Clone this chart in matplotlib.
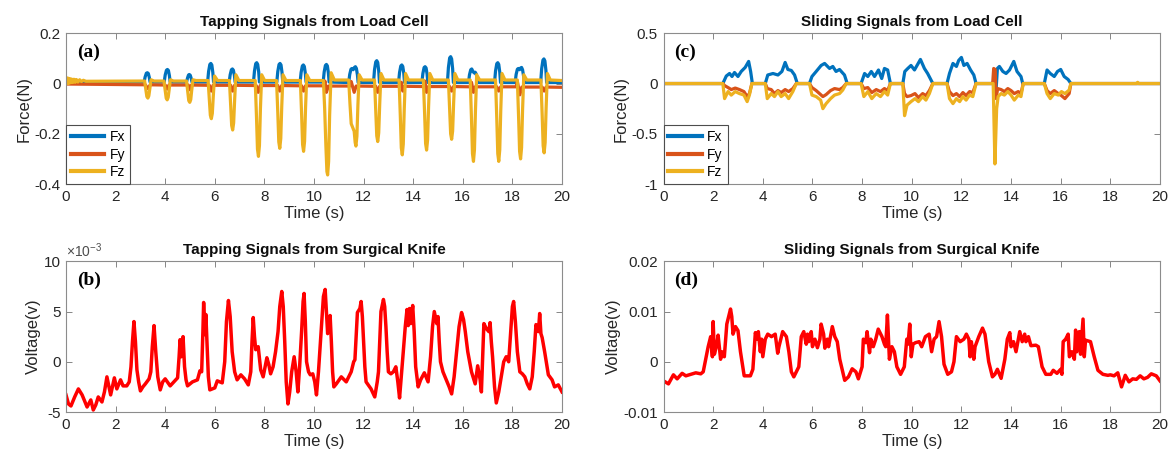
import numpy as np
import matplotlib.pyplot as plt

plt.rcParams['font.family'] = ['Liberation Sans', 'DejaVu Sans']
plt.rcParams['mathtext.fontset'] = 'custom'
plt.rcParams['mathtext.rm'] = 'Liberation Sans'

# colours (MATLAB default order)
c_fx, c_fy, c_fz = '#0072BD', '#D95319', '#EDB120'

# ---- (a) tapping, load cell : (time s, force N) ----
fx_a = [(0, 0.008),
        (3.15, .006), (3.19, .026), (3.24, .041), (3.28, .043), (3.32, .04), (3.36, .024), (3.39, .006),
        (3.96, .006), (4.0, .034), (4.05, .053), (4.09, .056), (4.13, .052), (4.17, .031), (4.2, .006),
        (4.86, .006), (4.9, .022), (4.94, .034), (4.97, .036), (5.01, .033), (5.05, .02), (5.08, .006),
        (5.71, .006), (5.75, .048), (5.8, .076), (5.84, .08), (5.88, .074), (5.92, .044), (5.95, .006),
        (6.58, .006), (6.62, .035), (6.67, .055), (6.71, .058), (6.75, .053), (6.79, .032), (6.82, .006),
        (7.56, .006), (7.6, .05), (7.65, .079), (7.69, .083), (7.73, .076), (7.77, .046), (7.8, .006),
        (8.5, .006), (8.54, .048), (8.59, .076), (8.63, .08), (8.67, .074), (8.71, .044), (8.74, .006),
        (9.44, .006), (9.48, .044), (9.53, .07), (9.57, .074), (9.61, .068), (9.65, .041), (9.68, .006),
        (10.37, .006), (10.41, .046), (10.46, .072), (10.5, .076), (10.54, .07), (10.58, .042), (10.61, .006),
        (11.4, .004), (11.44, .036), (11.49, .057), (11.53, .06), (11.58, .055), (11.63, .064), (11.67, .067),
        (11.71, .06), (11.75, .035), (11.78, .004),
        (12.4, .004), (12.44, .055), (12.49, .086), (12.53, .091), (12.57, .084), (12.61, .05), (12.64, .004),
        (13.41, .004), (13.45, .044), (13.5, .07), (13.54, .074), (13.58, .068), (13.62, .041), (13.65, .004),
        (14.35, .004), (14.39, .04), (14.44, .064), (14.48, .067), (14.52, .062), (14.56, .037), (14.59, .004),
        (15.38, .004), (15.42, .064), (15.47, .102), (15.51, .107), (15.55, .098), (15.59, .059), (15.62, .004),
        (16.23, .004), (16.27, .035), (16.32, .055), (16.36, .058), (16.41, .048), (16.46, .042), (16.5, .045),
        (16.54, .038), (16.58, .02), (16.61, .004),
        (17.28, .004), (17.32, .05), (17.37, .079), (17.41, .083), (17.45, .076), (17.49, .046), (17.52, .004),
        (18.11, .004), (18.15, .036), (18.2, .057), (18.24, .06), (18.29, .055), (18.33, .062), (18.37, .064),
        (18.41, .055), (18.45, .03), (18.48, .004),
        (19.14, .004), (19.18, .059), (19.23, .093), (19.27, .098), (19.31, .09), (19.35, .054), (19.38, .004),
        (20, .004)]

fy_a = [(0, -0.002), (3.2, -0.005), (3.3, -0.02), (3.4, -0.005),
        (4.0, -0.006), (4.08, -0.022), (4.15, -0.006),
        (4.93, -0.006), (5.0, -0.025), (5.06, -0.006),
        (5.78, -0.007), (5.86, -0.03), (5.93, -0.007),
        (6.64, -0.007), (6.72, -0.03), (6.8, -0.007),
        (7.67, -0.008), (7.75, -0.035), (7.83, -0.008),
        (8.54, -0.008), (8.62, -0.03), (8.7, -0.008),
        (9.5, -0.009), (9.58, -0.03), (9.66, -0.009),
        (10.4, -0.009), (10.44, 0.01), (10.5, -0.035), (10.58, -0.01),
        (11.45, -0.01), (11.5, 0.008), (11.62, -0.035), (11.7, -0.01),
        (12.49, -0.011), (12.57, -0.035), (12.65, -0.011),
        (13.48, -0.011), (13.52, 0.005), (13.58, -0.03), (13.66, -0.011),
        (14.42, -0.012), (14.47, 0.01), (14.54, -0.035), (14.62, -0.012),
        (15.47, -0.012), (15.55, -0.03), (15.63, -0.012),
        (16.3, -0.013), (16.35, 0.005), (16.43, -0.035), (16.5, -0.013),
        (17.37, -0.013), (17.45, -0.03), (17.53, -0.013),
        (18.15, -0.013), (18.2, 0.008), (18.3, -0.045), (18.38, -0.014),
        (19.2, -0.014), (19.28, -0.03), (19.36, -0.014), (20, -0.015)]

fz_a = [(0, 0.02), (0.03, 0.002), (0.07, 0.022), (0.1, 0.0), (0.14, 0.02), (0.18, 0.003),
        (0.22, 0.018), (0.27, 0.004), (0.32, 0.017), (0.37, 0.005), (0.42, 0.016), (0.48, 0.006),
        (0.55, 0.015), (0.62, 0.008), (0.7, 0.013), (0.8, 0.009),
        (3.17, .01), (3.22, -.026), (3.26, -.052), (3.3, -.058), (3.34, -.049), (3.38, -.02), (3.43, .015), (3.55, .01),
        (3.95, .01), (4.0, -.029), (4.04, -.058), (4.08, -.065), (4.12, -.055), (4.16, -.023), (4.21, .015), (4.33, .01),
        (4.86, .01), (4.91, -.034), (4.95, -.068), (4.99, -.075), (5.03, -.064), (5.07, -.026), (5.12, .015), (5.24, .012),
        (5.73, .012), (5.78, -.063), (5.82, -.126), (5.86, -.14), (5.9, -.119), (5.94, -.049), (5.99, .03), (6.11, .012),
        (6.59, .012), (6.64, -.083), (6.68, -.167), (6.72, -.185), (6.76, -.157), (6.8, -.065), (6.85, .035), (6.97, .012),
        (7.63, .012), (7.68, -.13), (7.72, -.261), (7.76, -.29), (7.8, -.247), (7.84, -.1), (7.89, .035), (8.01, .012),
        (8.49, .012), (8.54, -.116), (8.58, -.232), (8.62, -.258), (8.66, -.219), (8.7, -.09), (8.75, .035), (8.87, .012),
        (9.45, .012), (9.5, -.122), (9.54, -.243), (9.58, -.27), (9.62, -.23), (9.66, -.095), (9.71, .035), (9.83, .012),
        (10.38, .012), (10.43, -.1), (10.48, -.25), (10.52, -.35), (10.55, -.364), (10.59, -.31), (10.63, -.127),
        (10.69, .043), (10.82, .014),
        (11.4, .014), (11.45, -.08), (11.5, -.16), (11.56, -.175), (11.62, -.19), (11.66, -.235), (11.69, -.249),
        (11.73, -.21), (11.77, -.087), (11.82, .035), (11.94, .014),
        (12.44, .014), (12.49, -.104), (12.53, -.208), (12.57, -.231), (12.61, -.196), (12.65, -.081), (12.7, .04), (12.82, .014),
        (13.43, .014), (13.48, -.128), (13.52, -.256), (13.56, -.284), (13.6, -.241), (13.64, -.099), (13.69, .04), (13.81, .014),
        (14.41, .014), (14.46, -.119), (14.5, -.239), (14.54, -.265), (14.58, -.225), (14.62, -.093), (14.67, .04), (14.79, .014),
        (15.42, .014), (15.47, -.1), (15.51, -.2), (15.55, -.222), (15.59, -.189), (15.63, -.078), (15.68, .04), (15.8, .014),
        (16.3, .014), (16.35, -.14), (16.39, -.279), (16.43, -.31), (16.47, -.264), (16.51, -.109), (16.56, .035), (16.68, .014),
        (17.32, .014), (17.37, -.14), (17.41, -.279), (17.45, -.31), (17.49, -.264), (17.53, -.109), (17.58, .04), (17.7, .014),
        (18.2, .014), (18.25, -.135), (18.29, -.27), (18.33, -.3), (18.37, -.255), (18.41, -.105), (18.46, .035), (18.58, .014),
        (19.15, .014), (19.2, -.124), (19.24, -.248), (19.28, -.276), (19.32, -.235), (19.36, -.097), (19.41, .04), (19.53, .014),
        (20, .012)]

# ---- (b) tapping, surgical knife : (time s, voltage x1e-3 V) ----
v_b = [(0, -3.3), (0.1, -4.2), (0.2, -4.4), (0.35, -3.5), (0.5, -2.7), (0.65, -3.3), (0.85, -4.5), (1.0, -3.8),
       (1.1, -4.8), (1.2, -4.3), (1.3, -3.5), (1.45, -4.0), (1.55, -3.0), (1.65, -1.5), (1.8, -3.3), (1.95, -1.6),
       (2.05, -2.7), (2.2, -1.8), (2.3, -2.4), (2.45, -2.4), (2.55, -2.0), (2.62, -0.5), (2.68, 2.0), (2.74, 4.0),
       (2.8, 2.0), (2.86, -0.8), (2.93, -2.0), (3.0, -2.9), (3.1, -2.5), (3.2, -2.2), (3.35, -1.7), (3.42, -1.0),
       (3.48, 1.5), (3.55, 3.6), (3.62, 1.0), (3.7, -1.5), (3.8, -2.8), (3.9, -2.0), (4.0, -1.7), (4.2, -2.4),
       (4.35, -2.0), (4.5, -1.6), (4.56, 0.5), (4.6, 2.2), (4.65, 0.5), (4.72, 2.5), (4.78, -0.5), (4.84, -1.8),
       (4.9, -2.4), (5.1, -2.0), (5.3, -1.8), (5.4, -0.9), (5.47, -1.0), (5.52, 3.0), (5.55, 5.9), (5.6, 2.7),
       (5.64, 4.7), (5.69, 1.5), (5.74, -1.5), (5.8, -2.8), (6.0, -2.6), (6.1, -1.9), (6.3, -2.1), (6.4, 0),
       (6.47, 4.0), (6.55, 6.1), (6.62, 4.5), (6.7, 1.0), (6.8, -1.0), (6.9, -1.8), (7.05, -1.3), (7.2, -1.7),
       (7.35, -2.3), (7.45, -1.0), (7.5, 2.0), (7.55, 4.4), (7.6, 2.5), (7.65, 1.2), (7.75, 1.5), (7.85, -0.8),
       (7.95, -1.5), (8.03, -0.5), (8.1, 0.4), (8.18, -0.3), (8.25, -1.2), (8.35, -0.5), (8.45, 1.0), (8.55, 3.0),
       (8.62, 5.5), (8.7, 7.0), (8.76, 5.5), (8.82, 2.0), (8.88, -2.0), (8.95, -4.2), (9.02, -3.0), (9.1, -1.0),
       (9.2, 0.5), (9.28, -1.0), (9.35, -3.0), (9.42, -0.5), (9.5, 3.0), (9.56, 6.0), (9.6, 6.8), (9.65, 4.0),
       (9.7, 0), (9.78, -1.0), (9.85, -1.3), (9.95, -1.2), (10.03, -2.0), (10.1, -3.3), (10.18, -1.0), (10.3, 3.5),
       (10.38, 6.5), (10.45, 7.2), (10.5, 5.0), (10.55, 2.8), (10.6, 3.5), (10.65, 4.6), (10.7, 2.0), (10.75, -1.0),
       (10.8, -2.5), (10.9, -2.2), (11.1, -1.5), (11.3, -2.0), (11.5, -1.0), (11.6, 0.0), (11.65, 0.2), (11.7, 2.5),
       (11.75, 4.9), (11.85, 5.3), (11.9, 6.0), (11.95, 4.5), (12.0, 2.0), (12.05, -0.5), (12.1, -2.0), (12.3, -2.7),
       (12.45, -3.5), (12.55, -2.0), (12.6, -1.0), (12.65, 2.0), (12.7, 5.0), (12.8, 6.2), (12.85, 5.5), (12.9, 3.5),
       (12.95, 1.0), (13.0, -1.0), (13.1, -1.2), (13.2, -1.0), (13.3, -0.5), (13.38, -2.0), (13.45, -3.6),
       (13.52, -1.5), (13.6, 1.0), (13.68, 3.5), (13.75, 5.2), (13.8, 3.6), (13.85, 5.3), (13.9, 3.8), (13.98, 5.6),
       (14.04, 3.0), (14.1, -0.5), (14.2, -2.5), (14.3, -1.8), (14.45, -1.1), (14.6, -2.0), (14.7, 0.5),
       (14.78, 3.5), (14.85, 5.0), (14.95, 3.8), (15.0, 4.5), (15.05, 2.0), (15.1, 0), (15.2, -1.0), (15.3, -1.6),
       (15.45, -2.5), (15.55, -3.2), (15.65, -1.5), (15.75, 1.0), (15.85, 3.5), (15.95, 4.9), (16.03, 4.2),
       (16.1, 3.0), (16.2, 1.0), (16.35, -1.0), (16.5, -2.2), (16.6, -0.4), (16.7, -1.8), (16.75, -3.0),
       (16.8, 0.5), (16.85, 3.8), (16.95, 3.3), (17.05, 3.0), (17.1, 3.9), (17.15, 2.0), (17.2, 0.5),
       (17.28, -2.5), (17.35, -4.1), (17.45, -3.0), (17.55, -1.5), (17.65, 0), (17.75, 0.5), (17.85, 0),
       (17.92, 2.5), (18.0, 5.5), (18.05, 6.0), (18.12, 4.0), (18.2, 1.0), (18.3, -1.0), (18.4, -1.2),
       (18.5, -1.5), (18.6, -2.2), (18.7, -2.7), (18.8, -1.5), (18.88, 1.0), (18.95, 3.7), (19.05, 3.0),
       (19.1, 4.8), (19.15, 2.8), (19.2, 2.4), (19.3, 1.0), (19.4, -0.5), (19.45, -1.3), (19.6, -1.8),
       (19.7, -2.5), (19.85, -2.3), (20.0, -3.0)]

# ---- (c) sliding, load cell : (time s, force N) ----
fx_c = [(0, 0), (2.39, 0), (2.53, 0.075), (2.66, 0.10), (2.76, 0.07), (2.86, 0.11), (3.0, 0.07),
        (3.13, 0.12), (3.29, 0.16), (3.43, 0.22), (3.51, 0.12), (3.58, 0),
        (4.1, 0), (4.2, 0.085), (4.41, 0.10), (4.61, 0.085), (4.77, 0.12), (4.9, 0.21), (5.01, 0.14),
        (5.15, 0.13), (5.28, 0.085), (5.39, 0),
        (5.88, 0), (5.98, 0.07), (6.15, 0.12), (6.35, 0.18), (6.49, 0.20), (6.69, 0.15), (6.82, 0.17),
        (6.95, 0.12), (7.09, 0.14), (7.29, 0.085), (7.4, 0),
        (7.96, 0), (8.1, 0.10), (8.23, 0.07), (8.37, 0.12), (8.5, 0.07), (8.66, 0.135), (8.79, 0.05),
        (8.9, 0.15), (9.03, 0.135), (9.14, 0),
        (9.64, 0), (9.72, 0.12), (9.84, 0.15), (9.97, 0.18), (10.11, 0.135), (10.35, 0.24), (10.51, 0.15),
        (10.64, 0.10), (10.85, 0),
        (11.42, 0), (11.52, 0.10), (11.66, 0.20), (11.8, 0.17), (11.89, 0.23), (12.0, 0.26), (12.1, 0.18),
        (12.23, 0.20), (12.37, 0.135), (12.5, 0.085), (12.59, 0),
        (13.26, 0), (13.33, 0.05), (13.38, -0.13), (13.45, 0.15), (13.53, 0.17), (13.67, 0.12), (13.8, 0.10),
        (13.94, 0.135), (14.11, 0.22), (14.24, 0.12), (14.4, 0.07), (14.47, 0),
        (15.34, 0), (15.45, 0.135), (15.58, 0.10), (15.74, 0.07), (15.87, 0.12), (16.0, 0.14), (16.14, 0.07),
        (16.3, 0.04), (16.41, 0), (20, 0)]

fy_c = [(0, 0), (2.39, 0), (2.46, -0.02), (2.6, -0.04), (2.73, -0.06), (2.89, -0.045), (3.06, -0.06),
        (3.24, -0.08), (3.37, -0.13), (3.46, -0.10), (3.56, 0),
        (4.1, 0), (4.18, -0.05), (4.34, -0.06), (4.47, -0.10), (4.61, -0.07), (4.74, -0.09), (4.9, -0.06),
        (5.04, -0.08), (5.21, -0.05), (5.35, 0),
        (5.88, 0), (5.98, -0.04), (6.15, -0.07), (6.33, -0.11), (6.42, -0.13), (6.55, -0.11), (6.73, -0.07),
        (6.89, -0.05), (7.09, -0.06), (7.22, -0.04), (7.36, 0),
        (7.96, 0), (8.07, -0.05), (8.23, -0.04), (8.39, -0.09), (8.57, -0.06), (8.74, -0.08), (8.9, -0.05),
        (9.03, -0.07), (9.14, 0),
        (9.64, 0), (9.71, -0.10), (9.81, -0.13), (9.97, -0.12), (10.13, -0.10), (10.27, -0.14), (10.44, -0.10),
        (10.57, -0.12), (10.71, -0.07), (10.85, 0),
        (11.42, 0), (11.52, -0.08), (11.66, -0.12), (11.8, -0.10), (11.93, -0.13), (12.06, -0.09), (12.19, -0.12),
        (12.33, -0.08), (12.46, -0.09), (12.59, 0),
        (13.26, 0), (13.3, 0.15), (13.36, 0.14), (13.4, -0.15), (13.46, -0.05), (13.6, -0.06), (13.73, -0.08),
        (13.87, -0.05), (14.0, -0.07), (14.13, -0.10), (14.29, -0.08), (14.4, -0.10), (14.49, 0),
        (15.34, 0), (15.45, -0.07), (15.58, -0.10), (15.74, -0.07), (15.9, -0.10), (16.03, -0.12), (16.17, -0.15),
        (16.34, -0.10), (16.41, 0), (20, 0)]

fz_c = [(0, 0), (2.39, 0), (2.46, -0.15), (2.6, -0.08), (2.73, -0.115), (2.89, -0.08), (3.06, -0.10),
        (3.24, -0.115), (3.37, -0.18), (3.46, -0.115), (3.56, 0),
        (4.1, 0), (4.18, -0.15), (4.34, -0.10), (4.47, -0.13), (4.61, -0.08), (4.74, -0.13), (4.9, -0.10),
        (5.04, -0.15), (5.21, -0.08), (5.35, 0),
        (5.88, 0), (5.98, -0.115), (6.15, -0.13), (6.33, -0.165), (6.42, -0.25), (6.55, -0.20), (6.73, -0.15),
        (6.89, -0.115), (7.09, -0.10), (7.22, -0.065), (7.36, 0),
        (7.96, 0), (8.07, -0.13), (8.23, -0.08), (8.39, -0.15), (8.57, -0.10), (8.74, -0.13), (8.9, -0.08),
        (9.03, -0.115), (9.14, 0),
        (9.64, 0), (9.71, -0.32), (9.81, -0.215), (9.97, -0.18), (10.13, -0.15), (10.27, -0.18), (10.44, -0.13),
        (10.57, -0.165), (10.71, -0.10), (10.85, 0),
        (11.42, 0), (11.52, -0.15), (11.66, -0.20), (11.8, -0.15), (11.93, -0.18), (12.06, -0.13), (12.19, -0.165),
        (12.33, -0.115), (12.46, -0.13), (12.59, 0),
        (13.28, 0), (13.35, -0.80), (13.42, -0.25), (13.48, -0.13), (13.6, -0.10), (13.73, -0.115), (13.87, -0.08),
        (14.0, -0.115), (14.13, -0.165), (14.29, -0.115), (14.4, -0.13), (14.49, 0),
        (15.34, 0), (15.45, -0.10), (15.58, -0.15), (15.74, -0.10), (15.9, -0.115), (16.03, -0.08), (16.17, -0.10),
        (16.34, -0.065), (16.41, 0), (19.05, 0), (19.1, 0.012), (19.15, 0), (20, 0)]

# ---- (d) sliding, surgical knife : (time s, voltage x1e-3 V) ----
v_d = [(0, -3.8), (0.2, -4.4), (0.4, -2.6), (0.55, -3.4), (0.75, -2.3), (0.9, -2.8), (1.1, -2.5),
       (1.3, -2.2), (1.5, -2.4), (1.6, -2.0), (1.8, 3.0), (1.9, 5.0), (1.97, 1.0), (2.0, 8.0), (2.05, 1.5),
       (2.15, 3.5), (2.2, 5.3), (2.3, 0.5), (2.35, 2.0), (2.45, 1.0), (2.55, 7.5), (2.7, 10.5), (2.75, 9.0),
       (2.8, 5.5), (2.9, 7.0), (3.0, 6.2), (3.1, 2.0), (3.25, -2.8), (3.5, -2.8), (3.6, -1.5), (3.7, 5.8),
       (3.78, 4.5), (3.82, 6.0), (3.9, 2.0), (3.95, 4.5), (4.0, 1.0), (4.1, 4.5), (4.2, 5.5), (4.35, 5.0),
       (4.5, 5.5), (4.6, 1.7), (4.65, 3.0), (4.8, 6.0), (4.95, 5.0), (5.05, 2.0), (5.15, -2.0), (5.25, -3.0),
       (5.45, -1.0), (5.55, 5.0), (5.65, 6.0), (5.75, 3.5), (5.8, 5.5), (5.85, 4.0), (5.95, 6.0), (6.0, 3.0),
       (6.1, 4.5), (6.2, 2.8), (6.3, 4.5), (6.35, 7.5), (6.45, 5.5), (6.5, 2.7), (6.6, 4.5), (6.65, 3.0),
       (6.8, 7.0), (6.9, 5.0), (7.0, 4.0), (7.1, 0.5), (7.3, -3.7), (7.45, -3.0), (7.6, -1.4), (7.75, -2.0),
       (7.85, -3.4), (8.0, -1.0), (8.05, 4.5), (8.15, 3.8), (8.2, 6.0), (8.3, 1.8), (8.35, 4.5), (8.45, 3.0),
       (8.55, 4.5), (8.65, 6.5), (8.8, 5.0), (8.9, 3.5), (8.95, 3.0), (9.02, 9.3), (9.1, 0.5), (9.2, 3.0),
       (9.3, 2.0), (9.4, -1.0), (9.55, -2.5), (9.7, -1.0), (9.8, 4.5), (9.85, 3.5), (9.92, 7.5), (9.98, 1.0),
       (10.05, 3.5), (10.15, 3.8), (10.3, 4.0), (10.4, 3.0), (10.55, 5.0), (10.7, 5.5), (10.8, 2.0),
       (10.9, 4.5), (11.0, 5.0), (11.1, 8.0), (11.2, 5.0), (11.3, -0.5), (11.45, -2.5), (11.6, -2.0),
       (11.7, 0), (11.8, 5.0), (11.95, 4.0), (12.1, 4.5), (12.2, 5.5), (12.3, 4.5), (12.35, 1.0), (12.4, 4.0),
       (12.5, 0.5), (12.55, 3.0), (12.7, 5.0), (12.85, 6.7), (12.95, 5.5), (13.1, 0), (13.25, -3.0),
       (13.35, -2.5), (13.45, -1.5), (13.6, -3.3), (13.75, 0.5), (13.85, 4.5), (13.95, 5.8), (14.0, 3.0),
       (14.1, 4.0), (14.2, 2.0), (14.35, 6.0), (14.45, 4.0), (14.55, 5.5), (14.6, 4.0), (14.7, 5.0),
       (14.8, 3.2), (15.0, 3.3), (15.1, 3.0), (15.25, -1.0), (15.4, -2.5), (15.6, -2.5), (15.7, -1.7),
       (15.85, -2.3), (16.0, -1.5), (16.05, -2.5), (16.1, 4.0), (16.2, 4.5), (16.3, 5.5), (16.35, 1.0),
       (16.45, 2.0), (16.55, 0.5), (16.6, 6.3), (16.65, 2.0), (16.75, 6.0), (16.8, 1.5), (16.9, 8.5),
       (16.95, 1.0), (17.0, 4.3), (17.2, 4.0), (17.35, 1.0), (17.5, -1.7), (17.7, -2.5), (17.9, -2.7),
       (18.0, -2.6), (18.15, -2.8), (18.3, -2.2), (18.45, -5.0), (18.6, -2.7), (18.75, -4.0), (18.9, -3.4),
       (19.05, -3.5), (19.2, -2.8), (19.35, -3.4), (19.5, -3.1), (19.65, -2.4), (19.85, -2.8), (20.0, -3.8)]

x_ticks = list(range(0, 21, 2))


def setup(ax, title, ylabel, yticks, ylabels, tag):
    ax.set_xlim(0, 20)
    ax.set_ylim(yticks[0], yticks[-1])
    ax.set_xticks(x_ticks)
    ax.set_xticklabels([str(t) for t in x_ticks])
    ax.set_yticks(yticks)
    ax.set_yticklabels(ylabels)
    ax.tick_params(direction='in', top=True, right=True, length=4, width=0.6,
                   color='0.45', labelcolor='0.15', labelsize=11, pad=4)
    for s in ax.spines.values():
        s.set_color('0.55')
        s.set_linewidth(0.8)
    ax.set_title(title, fontsize=11, fontweight='bold', pad=5, color='0.05')
    ax.set_xlabel('Time (s)', fontsize=12, color='0.15', labelpad=2)
    ax.set_ylabel(ylabel, fontsize=12, color='0.15', labelpad=2)
    ax.text(0.022, 0.875, tag, transform=ax.transAxes, va='center', ha='left',
            family=['Liberation Serif', 'DejaVu Serif'], fontweight='bold', fontsize=14)


def forces(ax, fx, fy, fz):
    for data, c, name in ((fx, c_fx, 'Fx'), (fy, c_fy, 'Fy'), (fz, c_fz, 'Fz')):
        t, v = np.array(data).T
        ax.plot(t, v, color=c, lw=2.3, label=name, solid_joinstyle='round')
    leg = ax.legend(loc='lower left', borderaxespad=0, fancybox=False, edgecolor='0.3',
                    fontsize=10, handlelength=2.4, labelspacing=0.25, borderpad=0.35,
                    handletextpad=0.4, framealpha=1)
    leg.get_frame().set_linewidth(0.8)
    for ln in leg.get_lines():
        ln.set_linewidth(3)


fig = plt.figure(figsize=(11.74, 4.61), dpi=100)
W, H = 1174, 461
ax_a = fig.add_axes([66 / W, 1 - 184 / H, 496 / W, 150.7 / H])
ax_c = fig.add_axes([663.5 / W, 1 - 184 / H, 496.5 / W, 150.7 / H])
ax_b = fig.add_axes([66 / W, 1 - 412 / H, 496 / W, 150.7 / H])
ax_d = fig.add_axes([663.5 / W, 1 - 412 / H, 496.5 / W, 150.7 / H])

forces(ax_a, fx_a, fy_a, fz_a)
setup(ax_a, 'Tapping Signals from Load Cell', 'Force(N)',
      [-0.4, -0.2, 0, 0.2], ['-0.4', '-0.2', '0', '0.2'], '(a)')

forces(ax_c, fx_c, fy_c, fz_c)
setup(ax_c, 'Sliding Signals from Load Cell', 'Force(N)',
      [-1, -0.5, 0, 0.5], ['-1', '-0.5', '0', '0.5'], '(c)')

t, v = np.array(v_b).T
ax_b.plot(t, v * 1e-3, color='#FF0000', lw=2.5, solid_joinstyle='round')
setup(ax_b, 'Tapping Signals from Surgical Knife', 'Voltage(v)',
      [-5e-3, 0, 5e-3, 10e-3], ['-5', '0', '5', '10'], '(b)')
ax_b.text(0.0, 1.01, r'$\times10^{-3}$', transform=ax_b.transAxes, ha='left', va='bottom',
          fontsize=10, color='0.3')

t, v = np.array(v_d).T
ax_d.plot(t, v * 1e-3, color='#FF0000', lw=2.5, solid_joinstyle='round')
setup(ax_d, 'Sliding Signals from Surgical Knife', 'Voltage(v)',
      [-0.01, 0, 0.01, 0.02], ['-0.01', '0', '0.01', '0.02'], '(d)')

fig.savefig('out.png', dpi=100)
